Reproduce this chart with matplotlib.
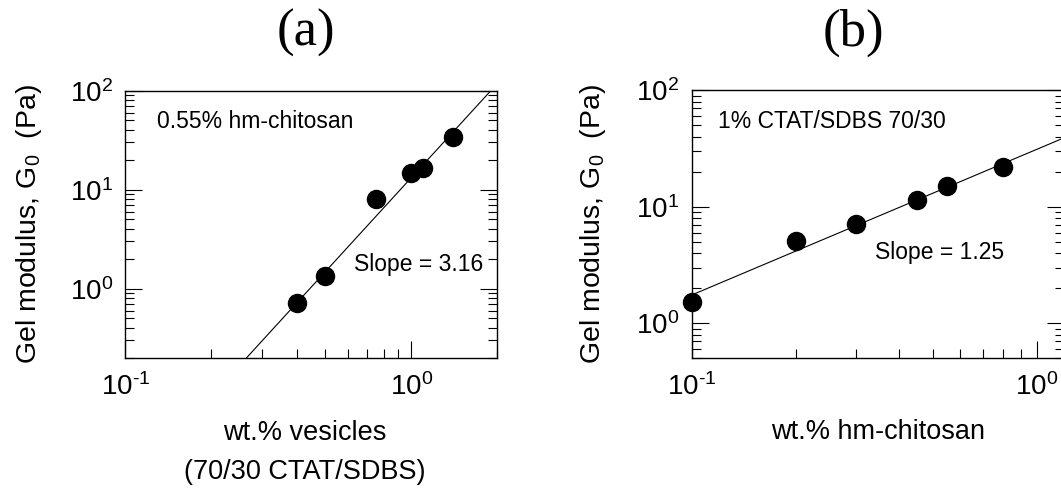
import numpy as np
import matplotlib
matplotlib.use("Agg")
import matplotlib.pyplot as plt
from matplotlib.ticker import LogLocator, NullFormatter, FuncFormatter

plt.rcParams["font.family"] = ["Liberation Sans", "DejaVu Sans"]
plt.rcParams["mathtext.fontset"] = "custom"
plt.rcParams["mathtext.rm"] = "Liberation Sans"
plt.rcParams["mathtext.it"] = "Liberation Sans:italic"
plt.rcParams["mathtext.bf"] = "Liberation Sans:bold"
plt.rcParams["axes.unicode_minus"] = False

# (a) gel modulus vs vesicle content at 0.55% hm-chitosan
vesicles_wt = [0.4, 0.5, 0.75, 1.0, 1.1, 1.4]
modulus_a = [0.72, 1.33, 8.1, 14.9, 16.5, 34.0]
slope_a = 3.16
prefactor_a = 13.2

# (b) gel modulus vs hm-chitosan content at 1% CTAT/SDBS 70/30
chitosan_wt = [0.1, 0.2, 0.3, 0.45, 0.55, 0.8]
modulus_b = [1.53, 5.07, 7.1, 11.5, 15.1, 21.9]
slope_b = 1.25
prefactor_b = 31.1

W, H = 1061, 495
fig = plt.figure(figsize=(W / 100, H / 100), dpi=100)

ax_a = fig.add_axes([125.3 / W, (H - 357.8) / H, 372.0 / W, 267.1 / H])
ax_b = fig.add_axes([691.8 / W, (H - 358.3) / H, 372.2 / W, 268.0 / H])


def decade_label(v, pos):
    # power-of-ten label with a plain hyphen for negative exponents
    e = int(round(np.log10(v)))
    return r"$\mathdefault{10^{\text{%d}}}$" % e


def style_axes(ax, xlim, ylim):
    ax.set_xscale("log")
    ax.set_yscale("log")
    ax.set_xlim(*xlim)
    ax.set_ylim(*ylim)
    for s in ax.spines.values():
        s.set_linewidth(1.0)
    ax.xaxis.set_major_locator(LogLocator(base=10, numticks=10))
    ax.xaxis.set_minor_locator(LogLocator(base=10, subs=np.arange(2, 10), numticks=10))
    ax.yaxis.set_major_locator(LogLocator(base=10, numticks=10))
    ax.yaxis.set_minor_locator(LogLocator(base=10, subs=np.arange(2, 10), numticks=10))
    ax.xaxis.set_major_formatter(FuncFormatter(decade_label))
    ax.yaxis.set_major_formatter(FuncFormatter(decade_label))
    ax.xaxis.set_minor_formatter(NullFormatter())
    ax.yaxis.set_minor_formatter(NullFormatter())
    ax.tick_params(which="both", direction="in", top=False, bottom=True,
                   left=True, right=True, width=0.8)
    ax.tick_params(which="major", length=12.5, labelsize=20)
    ax.tick_params(which="minor", length=6.5)
    ax.tick_params(axis="x", which="major", pad=11)
    ax.tick_params(axis="y", which="major", pad=9)


def draw_panel(ax, x, y, slope, prefactor, xlim):
    xf = np.logspace(np.log10(xlim[0]) - 0.1, np.log10(xlim[1]) + 0.1, 200)
    ax.plot(xf, prefactor * xf ** slope, color="black", lw=0.8, zorder=2)
    ax.plot(x, y, "o", color="black", markersize=13, zorder=3, clip_on=False)


xlim_a, ylim_a = (0.1, 2.0), (0.2, 100)
style_axes(ax_a, xlim_a, ylim_a)
draw_panel(ax_a, vesicles_wt, modulus_a, slope_a, prefactor_a, xlim_a)
ax_a.text(0.084, 0.886, "0.55% hm-chitosan", transform=ax_a.transAxes,
          fontsize=16.5, ha="left", va="center")
ax_a.text(0.614, 0.35, f"Slope = {slope_a:.2f}", transform=ax_a.transAxes,
          fontsize=16.5, ha="left", va="center")
ax_a.set_xlabel("wt.% vesicles\n(70/30 CTAT/SDBS)", fontsize=19.5,
                linespacing=1.65, va="center", ha="center")
ax_a.xaxis.set_label_coords(0.483, -0.354)
ax_a.set_ylabel("Gel modulus, G$_0$  (Pa)", fontsize=20.5, va="center")
ax_a.yaxis.set_label_coords((29 - 125.3) / 372.0, 0.5)

xlim_b, ylim_b = (0.1, 1.2), (0.5, 100)
style_axes(ax_b, xlim_b, ylim_b)
draw_panel(ax_b, chitosan_wt, modulus_b, slope_b, prefactor_b, xlim_b)
ax_b.text(0.07, 0.885, "1% CTAT/SDBS 70/30", transform=ax_b.transAxes,
          fontsize=16.5, ha="left", va="center")
ax_b.text(0.493, 0.394, f"Slope = {slope_b:.2f}", transform=ax_b.transAxes,
          fontsize=16.5, ha="left", va="center")
ax_b.set_xlabel("wt.% hm-chitosan", fontsize=19.5, va="center")
ax_b.xaxis.set_label_coords(0.501, -0.274)
ax_b.set_ylabel("Gel modulus, G$_0$  (Pa)", fontsize=20.5, va="center")
ax_b.yaxis.set_label_coords((592.6 - 691.8) / 372.2, 0.5)

fig.text(305.8 / W, 1 - 33 / H, "(a)", fontsize=38, ha="center", va="center",
         family=["Liberation Serif", "DejaVu Serif"])
fig.text(853 / W, 1 - 33 / H, "(b)", fontsize=38, ha="center", va="center",
         family=["Liberation Serif", "DejaVu Serif"])

fig.savefig("out.png", dpi=100)
